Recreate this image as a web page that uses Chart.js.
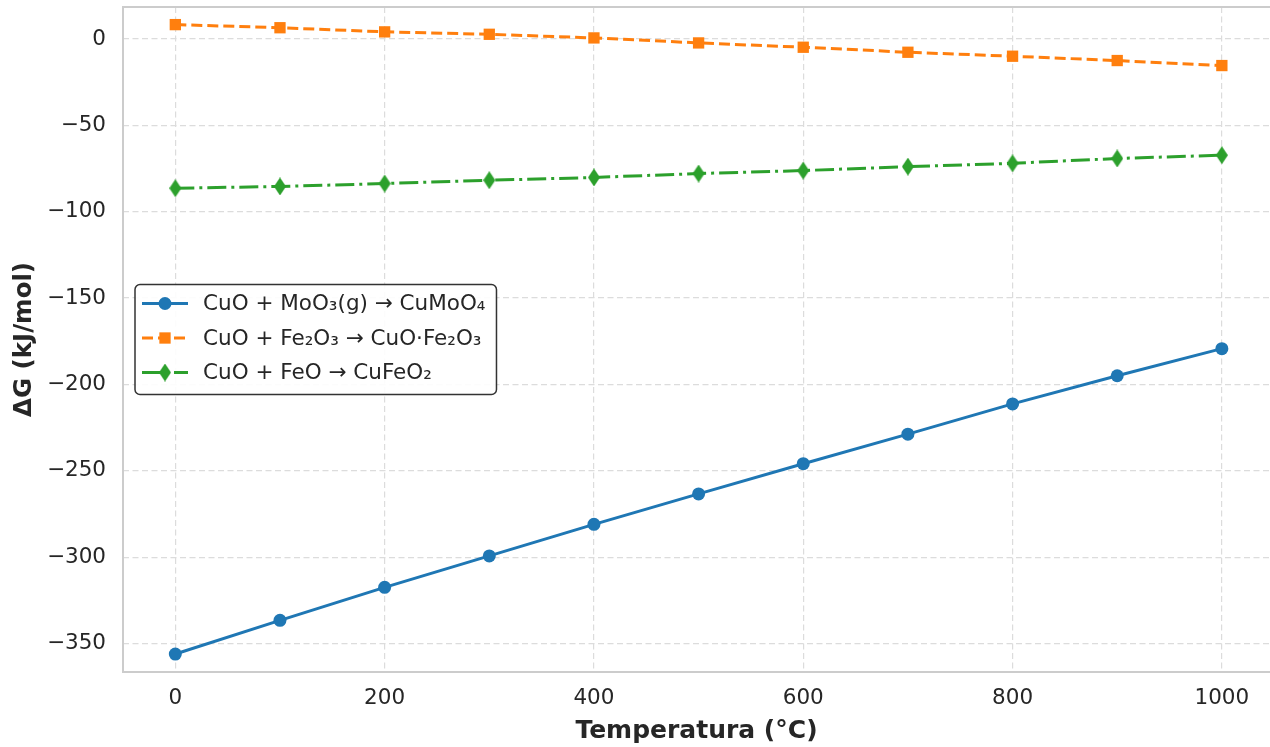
<!DOCTYPE html>
<html>
<head>
<meta charset="utf-8">
<script src="https://cdn.jsdelivr.net/npm/chart.js@4.4.1/dist/chart.umd.min.js"></script>
<style>
  html, body { margin: 0; padding: 0; background: #fff; }
  #wrap { width: 1270px; height: 747px; }
</style>
</head>
<body>
<div id="wrap"><canvas id="chart" width="1270" height="747"></canvas></div>
<script>
// ---------- data ----------
const temperatures = [0, 100, 200, 300, 400, 500, 600, 700, 800, 900, 1000];
const dgCuMoO4 = [-356.1, -336.6, -317.5, -299.3, -281.0, -263.4, -245.9, -228.8, -211.3, -195.0, -179.3];
const dgCuOFe2O3 = [8.3, 6.5, 4.1, 2.7, 0.6, -2.3, -4.8, -7.7, -10.0, -12.5, -15.4];
const dgCuFeO2 = [-86.4, -85.4, -83.7, -81.8, -80.2, -77.9, -76.2, -73.9, -72.0, -69.2, -67.3];
const seriesLabels = ["CuO + MoO₃(g) → CuMoO₄", "CuO + Fe₂O₃ → CuO·Fe₂O₃", "CuO + FeO → CuFeO₂"];
const xTicks = [0, 200, 400, 600, 800, 1000];
const yTicks = [0, -50, -100, -150, -200, -250, -300, -350];

const FONT = "'DejaVu Sans', sans-serif";
const TEXT = "#262626";
const GRID = "#dcdcdc";

function points(ys) {
  return temperatures.map((t, i) => ({ x: t, y: ys[i] }));
}

// matplotlib-like thin diamond marker
function thinDiamond(color, w, h) {
  const c = document.createElement("canvas");
  c.width = w;
  c.height = h;
  const g = c.getContext("2d");
  g.fillStyle = color;
  g.beginPath();
  g.moveTo(w / 2, 0);
  g.lineTo(w, h / 2);
  g.lineTo(w / 2, h);
  g.lineTo(0, h / 2);
  g.closePath();
  g.fill();
  return c;
}

function minus(v) {
  return String(v).replace("-", "\u2212");
}

// light-gray spines (right one falls outside the picture)
const frame = {
  id: "frame",
  beforeDatasetsDraw(chart) {
    const { ctx, chartArea: a } = chart;
    ctx.save();
    ctx.strokeStyle = "#cccccc";
    ctx.lineWidth = 2;
    ctx.beginPath();
    ctx.moveTo(a.right + 2, a.top);
    ctx.lineTo(a.left, a.top);
    ctx.lineTo(a.left, a.bottom);
    ctx.lineTo(a.right + 2, a.bottom);
    ctx.stroke();
    ctx.restore();
  }
};

// legend boxed inside the axes, centre left
const insideLegend = {
  id: "insideLegend",
  afterDraw(chart) {
    const { ctx, chartArea: a } = chart;
    const sets = chart.data.datasets;
    const rowH = 34.5, boxH = 110;
    ctx.save();
    ctx.font = "21.5px " + FONT;
    const textW = Math.max(...sets.map((d) => ctx.measureText(d.label).width));
    const x0 = a.left + 12;
    const w = 68 + textW + 11;
    const y0 = (a.top + a.bottom) / 2 - boxH / 2;

    ctx.beginPath();
    ctx.roundRect(x0, y0, w, boxH, 5);
    ctx.fillStyle = "rgba(255,255,255,0.9)";
    ctx.fill();
    ctx.strokeStyle = "#333333";
    ctx.lineWidth = 1.5;
    ctx.stroke();

    sets.forEach((ds, i) => {
      const cy = y0 + 19 + i * rowH;
      ctx.strokeStyle = ds.borderColor;
      ctx.lineWidth = ds.borderWidth;
      ctx.setLineDash(ds.borderDash || []);
      ctx.beginPath();
      ctx.moveTo(x0 + 7, cy);
      ctx.lineTo(x0 + 53, cy);
      ctx.stroke();
      ctx.setLineDash([]);
      ctx.fillStyle = ds.borderColor;
      Chart.helpers.drawPoint(ctx, { pointStyle: ds.pointStyle, radius: ds.pointRadius, rotation: 0, borderWidth: 0 }, x0 + 30, cy);
      ctx.fillStyle = TEXT;
      ctx.textBaseline = "middle";
      ctx.textAlign = "left";
      ctx.fillText(ds.label, x0 + 68, cy + 1);
    });
    ctx.restore();
  }
};

const blue = "#1f77b4", orange = "#ff7f0e", green = "#2ca02c";

new Chart(document.getElementById("chart"), {
  type: "line",
  data: {
    datasets: [
      {
        label: seriesLabels[0], data: points(dgCuMoO4),
        borderColor: blue, backgroundColor: blue, borderWidth: 3,
        pointStyle: "circle", pointRadius: 6.5, pointBorderWidth: 0, pointBackgroundColor: blue
      },
      {
        label: seriesLabels[1], data: points(dgCuOFe2O3),
        borderColor: orange, backgroundColor: orange, borderWidth: 3, borderDash: [11, 5],
        pointStyle: "rect", pointRadius: 8, pointBorderWidth: 0, pointBackgroundColor: orange
      },
      {
        label: seriesLabels[2], data: points(dgCuFeO2),
        borderColor: green, backgroundColor: green, borderWidth: 3, borderDash: [19, 5, 3, 5],
        pointStyle: thinDiamond(green, 12, 18), pointRadius: 6, pointBorderWidth: 0, pointBackgroundColor: green
      }
    ]
  },
  options: {
    responsive: false,
    animation: false,
    devicePixelRatio: 1,
    layout: { autoPadding: false, padding: { top: 7, right: 0, left: 0, bottom: 0 } },
    plugins: { legend: { display: false }, tooltip: { enabled: false } },
    scales: {
      x: {
        type: "linear",
        min: -50,
        max: 1046,
        afterBuildTicks: (s) => { s.ticks = xTicks.map((v) => ({ value: v })); },
        afterFit: (s) => { s.height = 75; s.paddingLeft = 0; s.paddingRight = 0; },
        grid: { color: GRID, lineWidth: 1.2, drawTicks: false },
        border: { display: false, dash: [6, 3.5] },
        ticks: { font: { family: FONT, size: 21.5 }, color: TEXT, padding: 14, maxRotation: 0, callback: (v) => minus(v) },
        title: { display: true, text: "Temperatura (°C)", color: TEXT, font: { family: FONT, size: 25, weight: "bold" }, padding: { top: 0, bottom: 1 } }
      },
      y: {
        type: "linear",
        min: -366.5,
        max: 18.5,
        afterBuildTicks: (s) => { s.ticks = yTicks.map((v) => ({ value: v })); },
        afterFit: (s) => { s.width = 123; s.paddingTop = 0; s.paddingBottom = 0; },
        grid: { color: GRID, lineWidth: 1.2, drawTicks: false },
        border: { display: false, dash: [6, 3.5] },
        ticks: { font: { family: FONT, size: 21.5 }, color: TEXT, padding: 17, callback: (v) => minus(v) },
        title: { display: true, text: "ΔG (kJ/mol)", color: TEXT, font: { family: FONT, size: 24.5, weight: "bold" }, padding: { top: 10, bottom: 0 } }
      }
    }
  },
  plugins: [frame, insideLegend]
});
</script>
</body>
</html>
